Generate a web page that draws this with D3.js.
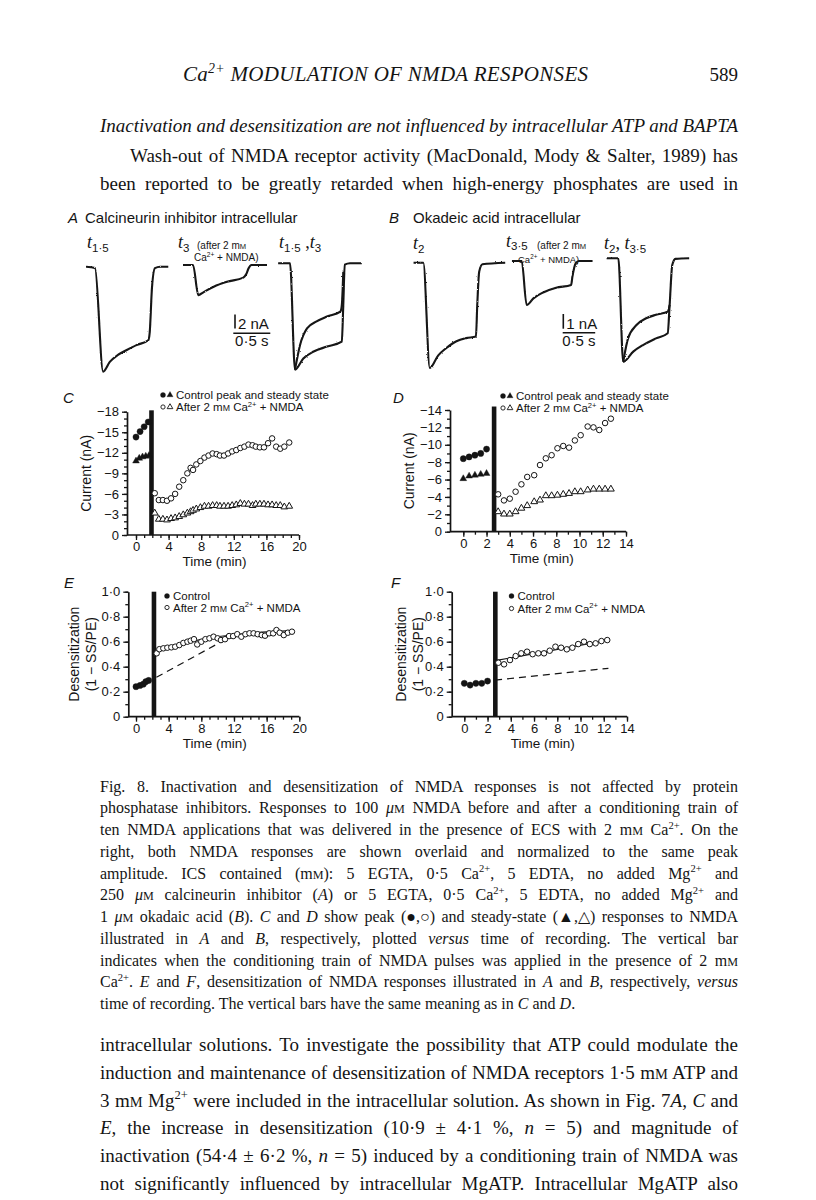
<!DOCTYPE html>
<html><head><meta charset="utf-8">
<script src="https://cdn.jsdelivr.net/npm/d3@7/dist/d3.min.js"></script>
<style>html,body{margin:0;padding:0;background:#fff}svg{display:block}</style>
</head><body>
<svg id="page" width="816" height="1200" xmlns="http://www.w3.org/2000/svg">
<defs>
<filter id="noise" x="-5%" y="-5%" width="110%" height="110%">
<feTurbulence type="fractalNoise" baseFrequency="0.8" numOctaves="1" seed="4" result="n"/>
<feDisplacementMap in="SourceGraphic" in2="n" scale="2.2" xChannelSelector="R" yChannelSelector="G"/>
</filter>
</defs>
</svg>
<script>
// ================= DATA =================
// Panel C: calcineurin inhibitor, current (nA) vs time (min)
const cCtrlPeakT = [0, 0.5, 1.0, 1.5];
const cCtrlPeakI = [-14.3, -15.1, -15.8, -16.5];
const cCtrlSST   = [0, 0.4, 0.8, 1.2, 1.6];
const cCtrlSSI   = [-10.8, -11.2, -11.4, -11.5, -11.6];
const cAfterT    = [2.3, 2.8, 3.3, 3.8, 4.3, 4.8, 5.3, 5.8, 6.3, 6.7, 7.0, 7.4, 7.9, 8.4, 8.9, 9.4, 9.9, 10.3, 10.8, 11.3, 11.8, 12.3, 12.8, 13.3, 13.8, 14.3, 14.7, 15.2, 15.7, 16.2, 16.7, 17.2, 17.7, 18.2, 18.8];
const cAfterPeakI= [-6.1, -5.1, -5.1, -5.0, -5.35, -6.0, -7.05, -8.0, -9.0, -9.8, -9.5, -10.3, -10.8, -11.3, -11.6, -11.9, -11.8, -11.6, -11.6, -11.9, -12.2, -12.4, -12.7, -12.9, -13.2, -13.1, -12.9, -12.8, -12.8, -13.4, -14.1, -12.9, -12.6, -12.9, -13.5];
const cAfterSSI  = [-3.2, -2.3, -2.3, -2.2, -2.4, -2.5, -2.7, -2.95, -3.2, -3.4, -3.6, -3.8, -4.0, -4.2, -4.2, -4.3, -4.3, -4.2, -4.2, -4.2, -4.3, -4.4, -4.6, -4.5, -4.5, -4.3, -4.5, -4.5, -4.5, -4.4, -4.4, -4.3, -4.3, -4.1, -4.2];
const cBarT = 1.9;

// Panel D: okadaic acid
const dCtrlT     = [0, 0.5, 1.0, 1.5, 2.0];
const dCtrlPeakI = [-8.4, -8.6, -8.8, -9.0, -9.5];
const dCtrlSSI   = [-6.1, -6.4, -6.5, -6.6, -6.7];
const dAfterT    = [3.0, 3.5, 4.0, 4.5, 5.0, 5.5, 6.1, 6.6, 7.1, 7.6, 8.1, 8.6, 9.1, 9.6, 10.1, 10.7, 11.2, 11.7, 12.2, 12.7];
const dAfterPeakI= [-4.3, -3.6, -3.8, -4.6, -5.45, -6.3, -6.5, -7.67, -8.44, -8.8, -9.6, -9.86, -9.67, -10.5, -11.1, -12.1, -12.0, -11.7, -12.5, -13.0];
const dAfterSSI  = [-2.3, -2.03, -2.03, -2.3, -2.7, -3.0, -3.45, -3.64, -4.14, -4.14, -4.2, -4.3, -4.4, -4.6, -4.6, -4.8, -4.9, -4.9, -4.9, -4.9];
const dBarT = 2.65;

// Panel E: desensitization (1 - SS/PE), calcineurin inhibitor
const eCtrlT  = [0, 0.5, 0.9, 1.2, 1.55];
const eCtrlV  = [0.24, 0.25, 0.26, 0.28, 0.29];
const eAfterT = [2.53, 2.86, 3.35, 3.84, 4.33, 4.8, 5.3, 5.8, 6.3, 6.7, 7.1, 7.5, 8.0, 8.5, 9.0, 9.5, 10.0, 10.4, 10.9, 11.4, 11.9, 12.4, 12.9, 13.4, 13.9, 14.4, 14.9, 15.4, 15.8, 16.3, 16.8, 17.2, 17.6, 18.1, 18.6, 19.1];
const eAfterV = [0.507, 0.54, 0.547, 0.552, 0.555, 0.56, 0.573, 0.59, 0.6, 0.608, 0.62, 0.578, 0.6, 0.62, 0.627, 0.64, 0.627, 0.613, 0.62, 0.645, 0.645, 0.66, 0.64, 0.66, 0.667, 0.667, 0.66, 0.653, 0.648, 0.667, 0.667, 0.693, 0.672, 0.653, 0.672, 0.68];
const eFitT   = [2.4, 7.0, 19.3];
const eFitV   = [0.525, 0.605, 0.69];
const eDashT  = [2.5, 10.6];
const eDashV  = [0.315, 0.605];
const eBarT = 2.2;

// Panel F: desensitization, okadaic acid
const fCtrlT  = [0, 0.5, 1.0, 1.5, 2.0];
const fCtrlV  = [0.267, 0.253, 0.267, 0.267, 0.285];
const fAfterT = [2.93, 3.42, 3.93, 4.42, 4.9, 5.4, 5.88, 6.37, 6.86, 7.35, 7.84, 8.33, 8.82, 9.3, 9.8, 10.3, 10.8, 11.3, 11.8, 12.3];
const fAfterV = [0.432, 0.419, 0.453, 0.485, 0.507, 0.52, 0.5, 0.507, 0.507, 0.528, 0.56, 0.552, 0.539, 0.552, 0.581, 0.6, 0.581, 0.587, 0.605, 0.613];
const fFitT   = [2.65, 12.4];
const fFitV   = [0.448, 0.613];
const fDashT  = [2.65, 12.4];
const fDashV  = [0.293, 0.387];
const fBarT = 2.67;

// Current traces: time (s) from NMDA onset, current (nA)
const a1T = [-0.12, 0, 0.11, 0.2, 0.31, 0.43, 0.56, 0.72, 0.74, 0.77, 0.81, 0.88, 0.99];
const a1I = [0, -0.2, -15, -13.6, -12.6, -11.9, -11.2, -10.5, -9.3, -3, -0.2, 0, 0];
const a2T = [-0.135, 0, 0.072, 0.14, 0.28, 0.46, 0.68, 0.72, 0.75, 0.79, 1.0];
const a2I = [0, 0, -4.3, -3.9, -3.1, -2.4, -1.8, -1.3, -0.5, 0, 0];
const a3SlowT = [-0.16, 0, 0.068, 0.18, 0.32, 0.5, 0.7, 0.72, 0.74, 0.81, 0.97];
const a3SlowI = [0, 0, -15.2, -13.6, -12.6, -11.9, -11.2, -6, -0.2, 0, 0];
const a3FastT = [0.068, 0.135, 0.23, 0.36, 0.5, 0.68, 0.7, 0.72];
const a3FastI = [-15.2, -11.7, -9.3, -8.3, -7.6, -6.9, -6, -1.2];
const b1T = [-0.15, 0, 0.1, 0.23, 0.35, 0.51, 0.66, 0.81, 0.83, 0.86, 0.91, 1.26];
const b1I = [0, 0, -7.16, -6.3, -5.82, -5.34, -5.13, -5.02, -2.88, -0.61, -0.11, 0];
const b2T = [-0.15, 0, 0.076, 0.18, 0.33, 0.53, 0.76, 0.78, 0.83, 0.88, 1.09];
const b2I = [0, 0, -2.99, -2.54, -2.14, -1.82, -1.63, -1.07, -0.16, 0, 0];
const b3SlowT = [-0.18, 0, 0.076, 0.23, 0.38, 0.58, 0.76, 0.79, 0.83, 0.88, 1.09];
const b3SlowI = [0, 0, -7.04, -6.35, -5.9, -5.45, -5.1, -3.17, -0.46, -0.04, 0];
const b3FastT = [0.076, 0.15, 0.28, 0.43, 0.58, 0.76, 0.79];
const b3FastI = [-7.04, -5.45, -4.54, -4.08, -3.84, -3.63, -3.17];

// Axis ticks
const cYTicks = [0, -3, -6, -9, -12, -15, -18];
const dYTicks = [0, -2, -4, -6, -8, -10, -12, -14];
const efYTicks = [0, 0.2, 0.4, 0.6, 0.8, 1.0];
const ceXTicks = [0, 4, 8, 12, 16, 20];
const dfXTicks = [0, 2, 4, 6, 8, 10, 12, 14];

// Text
const headerText = "Ca^2+^ MODULATION OF NMDA RESPONSES";
const pageNumber = "589";
const headingText = "Inactivation and desensitization are not influenced by intracellular ATP and BAPTA";
const topBody = [
  "Wash-out of NMDA receptor activity (MacDonald, Mody & Salter, 1989) has",
  "been reported to be greatly retarded when high-energy phosphates are used in"
];
const captionLines = [
  "Fig. 8. Inactivation and desensitization of NMDA responses is not affected by protein",
  "phosphatase inhibitors. Responses to 100 _μ_~m~ NMDA before and after a conditioning train of",
  "ten NMDA applications that was delivered in the presence of ECS with 2 m~m~ Ca^2+^. On the",
  "right, both NMDA responses are shown overlaid and normalized to the same peak",
  "amplitude. ICS contained (m~m~): 5 EGTA, 0·5 Ca^2+^, 5 EDTA, no added Mg^2+^ and",
  "250 _μ_~m~ calcineurin inhibitor (_A_) or 5 EGTA, 0·5 Ca^2+^, 5 EDTA, no added Mg^2+^ and",
  "1 _μ_~m~ okadaic acid (_B_). _C_ and _D_ show peak (●,○) and steady-state (▲,△) responses to NMDA",
  "illustrated in _A_ and _B_, respectively, plotted _versus_ time of recording. The vertical bar",
  "indicates when the conditioning train of NMDA pulses was applied in the presence of 2 m~m~",
  "Ca^2+^. _E_ and _F_, desensitization of NMDA responses illustrated in _A_ and _B_, respectively, _versus_",
  "time of recording. The vertical bars have the same meaning as in _C_ and _D_."
];
const bottomBody = [
  "intracellular solutions. To investigate the possibility that ATP could modulate the",
  "induction and maintenance of desensitization of NMDA receptors 1·5 m~m~ ATP and",
  "3 m~m~ Mg^2+^ were included in the intracellular solution. As shown in Fig. 7_A_, _C_ and",
  "_E_, the increase in desensitization (10·9 ± 4·1 %, _n_ = 5) and magnitude of",
  "inactivation (54·4 ± 6·2 %, _n_ = 5) induced by a conditioning train of NMDA was",
  "not significantly influenced by intracellular MgATP. Intracellular MgATP also"
];

// ================= DRAWING =================
const INK = "#141414";
const SERIF = "'Liberation Serif','Times New Roman',serif";
const SANS = "'Liberation Sans',Arial,Helvetica,sans-serif";
const svg = d3.select('#page');
svg.append('rect').attr('width', 816).attr('height', 1200).attr('fill', '#fff').lower();

function rich(parent, str, x, y, size, opts = {}) {
  const t = parent.append('text').attr('x', x).attr('y', y)
    .attr('font-family', opts.family || SERIF).attr('font-size', size)
    .attr('fill', INK).style('white-space', 'pre');
  if (opts.anchor) t.attr('text-anchor', opts.anchor);
  let it = !!opts.italic, sup = false, sub = false, sc = false, cur = 0, buf = '';
  const flush = () => {
    if (!buf) return;
    let fs = size, shift = 0, txt = buf;
    if (sup) { fs = size * 0.66; shift = -size * 0.38; }
    if (sub) { fs = size * 0.64; shift = size * 0.22; }
    if (sc) { fs = fs * 0.76; txt = txt.toUpperCase(); }
    const ts = t.append('tspan').text(txt).attr('font-size', fs)
      .attr('font-style', it ? 'italic' : 'normal');
    if (sub && opts.subFamily) ts.attr('font-family', opts.subFamily);
    if (shift !== cur) { ts.attr('dy', shift - cur); cur = shift; }
    buf = '';
  };
  for (const ch of str) {
    if (ch === '_') { flush(); it = !it; }
    else if (ch === '^') { flush(); sup = !sup; }
    else if (ch === '#') { flush(); sub = !sub; }
    else if (ch === '~') { flush(); sc = !sc; }
    else buf += ch;
  }
  flush();
  if (opts.fit) {
    t.attr('textLength', opts.fit).attr('lengthAdjust', 'spacing');
  } else if (opts.width) {
    const plain = str.replace(/[_^#~]/g, '');
    const nSp = (plain.match(/ /g) || []).length;
    const w = t.node().getComputedTextLength();
    if (nSp > 0) {
      t.style('word-spacing', ((opts.width - w) / nSp) + 'px');
      const w2 = t.node().getComputedTextLength();
      if (Math.abs(w2 - opts.width) > 2) {
        t.style('word-spacing', null);
        t.attr('textLength', opts.width).attr('lengthAdjust', 'spacing');
      }
    }
  }
  return t;
}

// ---- page text ----
const L = 100, W = 638;
rich(svg, headerText, 183, 81, 21, { italic: true, fit: 405 });
rich(svg, pageNumber, 738, 81, 19, { anchor: 'end' });
rich(svg, headingText, L, 132, 19, { italic: true, width: W });
rich(svg, topBody[0], L + 30, 162, 19, { width: W - 30 });
rich(svg, topBody[1], L, 190, 19, { width: W });
captionLines.forEach((s, i) => {
  rich(svg, s, L, 791.5 + i * 21.75, 16, i < captionLines.length - 1 ? { width: W } : {});
});
bottomBody.forEach((s, i) => {
  rich(svg, s, L, 1051 + i * 27.8, 19, { width: W });
});

// ---- scatter panels ----
function range(a, b, s) { const r = []; for (let v = a; s > 0 ? v <= b + 1e-9 : v >= b - 1e-9; v += s) r.push(+v.toFixed(4)); return r; }
const minusFmt = d => d === 0 ? '0' : '\u2212' + Math.abs(d);
const dotFmt = d => d === 0 ? '0' : d.toFixed(1).replace('.', '\u00b7');

function scatterPanel(cfg) {
  const g = svg.append('g');
  const x = d3.scaleLinear().domain(cfg.xDom).range(cfg.xRange);
  const y = d3.scaleLinear().domain(cfg.yDom).range(cfg.yRange);
  const y0 = y(0);
  g.append('rect').attr('x', x(cfg.barT) - 2.3).attr('width', 4.6)
    .attr('y', y(cfg.barTop)).attr('height', y0 - y(cfg.barTop)).attr('fill', INK);
  const style = sel => {
    sel.attr('font-family', SANS).attr('font-size', 13);
    sel.selectAll('line').attr('stroke', INK).attr('stroke-width', 1.3);
    sel.selectAll('path').attr('stroke', INK).attr('stroke-width', 1.7);
    sel.selectAll('text').attr('fill', INK);
  };
  g.append('g').attr('transform', `translate(${cfg.yAxisX},0)`)
    .call(d3.axisLeft(y).tickValues(cfg.yTicks).tickFormat(cfg.yFmt).tickSize(5).tickSizeOuter(0).tickPadding(3)).call(style);
  g.append('g').attr('transform', `translate(${cfg.yAxisX},0)`)
    .call(d3.axisLeft(y).tickValues(cfg.yMinor).tickFormat('').tickSize(3).tickSizeOuter(0)).call(style)
    .select('.domain').remove();
  const xg = g.append('g').attr('transform', `translate(0,${y0})`)
    .call(d3.axisBottom(x).tickValues(cfg.xTicks).tickFormat(d => d).tickSize(5).tickSizeOuter(0).tickPadding(2)).call(style);
  xg.select('.domain').remove();
  g.append('g').attr('transform', `translate(0,${y0})`)
    .call(d3.axisBottom(x).tickValues(cfg.xMinor).tickFormat('').tickSize(3).tickSizeOuter(0)).call(style)
    .select('.domain').remove();
  g.append('line').attr('x1', cfg.yAxisX).attr('x2', x(cfg.xDom[1])).attr('y1', y0).attr('y2', y0)
    .attr('stroke', INK).attr('stroke-width', 1.7);
  g.append('text').attr('x', (x(cfg.xDom[0]) + x(cfg.xDom[1])) / 2 - 3).attr('y', y0 + cfg.xLabelDy)
    .attr('text-anchor', 'middle').attr('font-family', SANS).attr('font-size', 13.5).attr('fill', INK).text('Time (min)');
  cfg.yLabel.forEach((s, i) => {
    const lx = cfg.yLabelX[i], ly = (y(cfg.yDom[0]) + y(cfg.yDom[1])) / 2;
    g.append('text').attr('transform', `translate(${lx},${ly}) rotate(-90)`).attr('dy', '0.35em')
      .attr('text-anchor', 'middle').attr('font-family', SANS).attr('font-size', 14).attr('fill', INK).text(s);
  });
  g.append('text').attr('x', cfg.letterX).attr('y', cfg.letterY).attr('font-family', SANS)
    .attr('font-style', 'italic').attr('font-size', 15).attr('fill', INK).text(cfg.letter);
  return { g, x, y };
}

function marks(p, ts, vs, type, filled, size) {
  p.g.append('g').selectAll('path').data(d3.zip(ts, vs)).join('path')
    .attr('d', d3.symbol().type(type).size(size))
    .attr('transform', d => `translate(${p.x(d[0])},${p.y(d[1])})`)
    .attr('fill', filled ? INK : '#fff').attr('stroke', INK).attr('stroke-width', filled ? 0.4 : 1);
}
function fitLine(p, ts, vs, dashed, curve) {
  const line = d3.line().x(d => p.x(d[0])).y(d => p.y(d[1])).curve(curve || d3.curveLinear);
  p.g.append('path').attr('d', line(d3.zip(ts, vs))).attr('fill', 'none').attr('stroke', INK)
    .attr('stroke-width', 1.2).attr('stroke-dasharray', dashed ? '7,5' : null);
}
function legendRow(g, sx, y, syms, str) {
  syms.forEach((s, i) => {
    g.append('path').attr('d', d3.symbol().type(s.type).size(s.size))
      .attr('transform', `translate(${sx + i * 7},${y})`)
      .attr('fill', s.filled ? INK : '#fff').attr('stroke', INK).attr('stroke-width', s.filled ? 0.3 : 0.9);
  });
  rich(g, str, sx + (syms.length - 1) * 7 + 6, y + 4, 11.5, { family: SANS });
}
const FC = { type: d3.symbolCircle, size: 20, filled: true };
const OC = { type: d3.symbolCircle, size: 14, filled: false };
const FT = { type: d3.symbolTriangle, size: 16, filled: true };
const OT = { type: d3.symbolTriangle, size: 14, filled: false };

// C
const pC = scatterPanel({ xDom: [0, 20], xRange: [136, 299], yDom: [0, -18], yRange: [535, 411.7], yAxisX: 127,
  yTicks: cYTicks, yFmt: minusFmt, yMinor: range(0, -18, -1), xTicks: ceXTicks, xMinor: range(0, 20, 1),
  barT: cBarT, barTop: -18.2, yLabel: ['Current (nA)'], yLabelX: [86], letter: 'C', letterX: 63, letterY: 403, xLabelDy: 30.5 });
marks(pC, cCtrlPeakT, cCtrlPeakI, d3.symbolCircle, true, 30);
marks(pC, cCtrlSST, cCtrlSSI, d3.symbolTriangle, true, 20);
marks(pC, cAfterT, cAfterPeakI, d3.symbolCircle, false, 24);
marks(pC, cAfterT, cAfterSSI, d3.symbolTriangle, false, 20);
legendRow(pC.g, 163, 395, [FC, FT], 'Control peak and steady state');
legendRow(pC.g, 163, 407, [OC, OT], 'After 2 m~m~ Ca^2+^ + NMDA');

// D
const pD = scatterPanel({ xDom: [0, 14], xRange: [463.3, 626], yDom: [0, -14], yRange: [531.7, 410], yAxisX: 450,
  yTicks: dYTicks, yFmt: minusFmt, yMinor: range(0, -14, -1), xTicks: dfXTicks, xMinor: range(0, 14, 1),
  barT: dBarT, barTop: -14.4, yLabel: ['Current (nA)'], yLabelX: [409], letter: 'D', letterX: 393, letterY: 403, xLabelDy: 31 });
marks(pD, dCtrlT, dCtrlPeakI, d3.symbolCircle, true, 30);
marks(pD, dCtrlT, dCtrlSSI, d3.symbolTriangle, true, 20);
marks(pD, dAfterT, dAfterPeakI, d3.symbolCircle, false, 24);
marks(pD, dAfterT, dAfterSSI, d3.symbolTriangle, false, 20);
legendRow(pD.g, 503, 396, [FC, FT], 'Control peak and steady state');
legendRow(pD.g, 503, 408, [OC, OT], 'After 2 m~m~ Ca^2+^ + NMDA');

// E
const pE = scatterPanel({ xDom: [0, 20], xRange: [136, 299.3], yDom: [0, 1], yRange: [716.7, 591.7], yAxisX: 128.3,
  yTicks: efYTicks, yFmt: dotFmt, yMinor: range(0, 1, 0.1), xTicks: ceXTicks, xMinor: range(0, 20, 1),
  barT: eBarT, barTop: 1.0, yLabel: ['Desensitization', '(1 \u2212 SS/PE)'], yLabelX: [74, 91], letter: 'E', letterX: 64, letterY: 588, xLabelDy: 31 });
fitLine(pE, eDashT, eDashV, true);
fitLine(pE, eFitT, eFitV, false, d3.curveMonotoneX);
marks(pE, eCtrlT, eCtrlV, d3.symbolCircle, true, 30);
marks(pE, eAfterT, eAfterV, d3.symbolCircle, false, 24);
legendRow(pE.g, 167, 596, [FC], 'Control');
legendRow(pE.g, 167, 607.5, [OC], 'After 2 m~m~ Ca^2+^ + NMDA');

// F
const pF = scatterPanel({ xDom: [0, 14], xRange: [464.3, 627], yDom: [0, 1], yRange: [716.7, 591.7], yAxisX: 451.7,
  yTicks: efYTicks, yFmt: dotFmt, yMinor: range(0, 1, 0.1), xTicks: dfXTicks, xMinor: range(0, 14, 1),
  barT: fBarT, barTop: 1.0, yLabel: ['Desensitization', '(1 \u2212 SS/PE)'], yLabelX: [401, 418], letter: 'F', letterX: 391, letterY: 588, xLabelDy: 31 });
fitLine(pF, fDashT, fDashV, true);
fitLine(pF, fFitT, fFitV, false);
marks(pF, fCtrlT, fCtrlV, d3.symbolCircle, true, 30);
marks(pF, fAfterT, fAfterV, d3.symbolCircle, false, 24);
legendRow(pF.g, 511.5, 596, [FC], 'Control');
legendRow(pF.g, 511.5, 608.5, [OC], 'After 2 m~m~ Ca^2+^ + NMDA');

// ---- traces ----
const tg = svg.append('g');
function traceScales(x0, y0, pxPerS, pxPerNA) {
  return {
    x: d3.scaleLinear().domain([0, 1]).range([x0, x0 + pxPerS]),
    y: d3.scaleLinear().domain([0, -1]).range([y0, y0 + pxPerNA])
  };
}
function trace(sc, ts, is) {
  const line = d3.line().x(d => sc.x(d[0])).y(d => sc.y(d[1])).curve(d3.curveMonotoneX);
  tg.append('path').attr('d', line(d3.zip(ts, is))).attr('fill', 'none').attr('stroke', INK)
    .attr('stroke-width', 2.1).attr('stroke-linejoin', 'round').attr('filter', 'url(#noise)');
}
const A_S = 74, A_NA = 7, B_S = 65, B_NA = 14.7;
trace(traceScales(95, 266.7, A_S, A_NA), a1T, a1I);
trace(traceScales(193, 265, A_S, A_NA), a2T, a2I);
const a3 = traceScales(290, 263.3, A_S, A_NA);
trace(a3, a3SlowT, a3SlowI);
trace(a3, a3FastT, a3FastI);
trace(traceScales(423.3, 262.7, B_S, B_NA), b1T, b1I);
trace(traceScales(521.7, 261, B_S, B_NA), b2T, b2I);
const b3 = traceScales(618.3, 258.3, B_S, B_NA);
trace(b3, b3SlowT, b3SlowI);
trace(b3, b3FastT, b3FastI);

// scale bars
function scaleBar(sc, vx, vy, hx, hy, nA, sec, label) {
  const v = sc.y(-nA) - sc.y(0), h = sc.x(sec) - sc.x(0);
  tg.append('line').attr('x1', vx).attr('x2', vx).attr('y1', vy).attr('y2', vy + v).attr('stroke', INK).attr('stroke-width', 1.6);
  tg.append('line').attr('x1', hx).attr('x2', hx + h).attr('y1', hy).attr('y2', hy).attr('stroke', INK).attr('stroke-width', 1.6);
  tg.append('text').attr('x', vx + 3).attr('y', vy + v).attr('font-family', SANS).attr('font-size', 15).attr('fill', INK).text(label);
  tg.append('text').attr('x', hx + h / 2).attr('y', hy + 13).attr('text-anchor', 'middle').attr('font-family', SANS)
    .attr('font-size', 15).attr('fill', INK).text('0\u00b75 s');
}
scaleBar(traceScales(0, 0, A_S, A_NA), 235, 314.5, 233.3, 333.3, 2, 0.5, '2 nA');
scaleBar(traceScales(0, 0, B_S, B_NA), 563.3, 314, 562.7, 332.7, 1, 0.5, '1 nA');

// panel titles & trace labels
function title(x, y, letter, str, gap) {
  tg.append('text').attr('x', x).attr('y', y).attr('font-family', SANS).attr('font-style', 'italic')
    .attr('font-size', 15).attr('fill', INK).text(letter);
  tg.append('text').attr('x', x + gap).attr('y', y).attr('font-family', SANS)
    .attr('font-size', 15).attr('fill', INK).text(str);
}
title(68, 223, 'A', 'Calcineurin inhibitor intracellular', 17);
title(389, 223, 'B', 'Okadeic acid intracellular', 24);
function tlabel(x, y, str) { rich(tg, str, x, y, 18, { subFamily: SANS }); }
tlabel(87, 248, '_t_#1·5#');
tlabel(178, 248, '_t_#3#');
tlabel(279, 248, '_t_#1·5# ,_t_#3#');
tlabel(413, 249, '_t_#2#');
tlabel(506, 246.5, '_t_#3·5#');
tlabel(604, 249, '_t_#2#, _t_#3·5#');
rich(tg, '(after 2 m~m~', 197, 249, 10, { family: SANS });
rich(tg, 'Ca^2+^ + NMDA)', 194, 261, 10, { family: SANS });
rich(tg, '(after 2 m~m~', 537, 248.5, 10, { family: SANS });
rich(tg, 'Ca^2+^ + NMDA)', 518, 262.5, 9.5, { family: SANS });
</script>
</body></html>
